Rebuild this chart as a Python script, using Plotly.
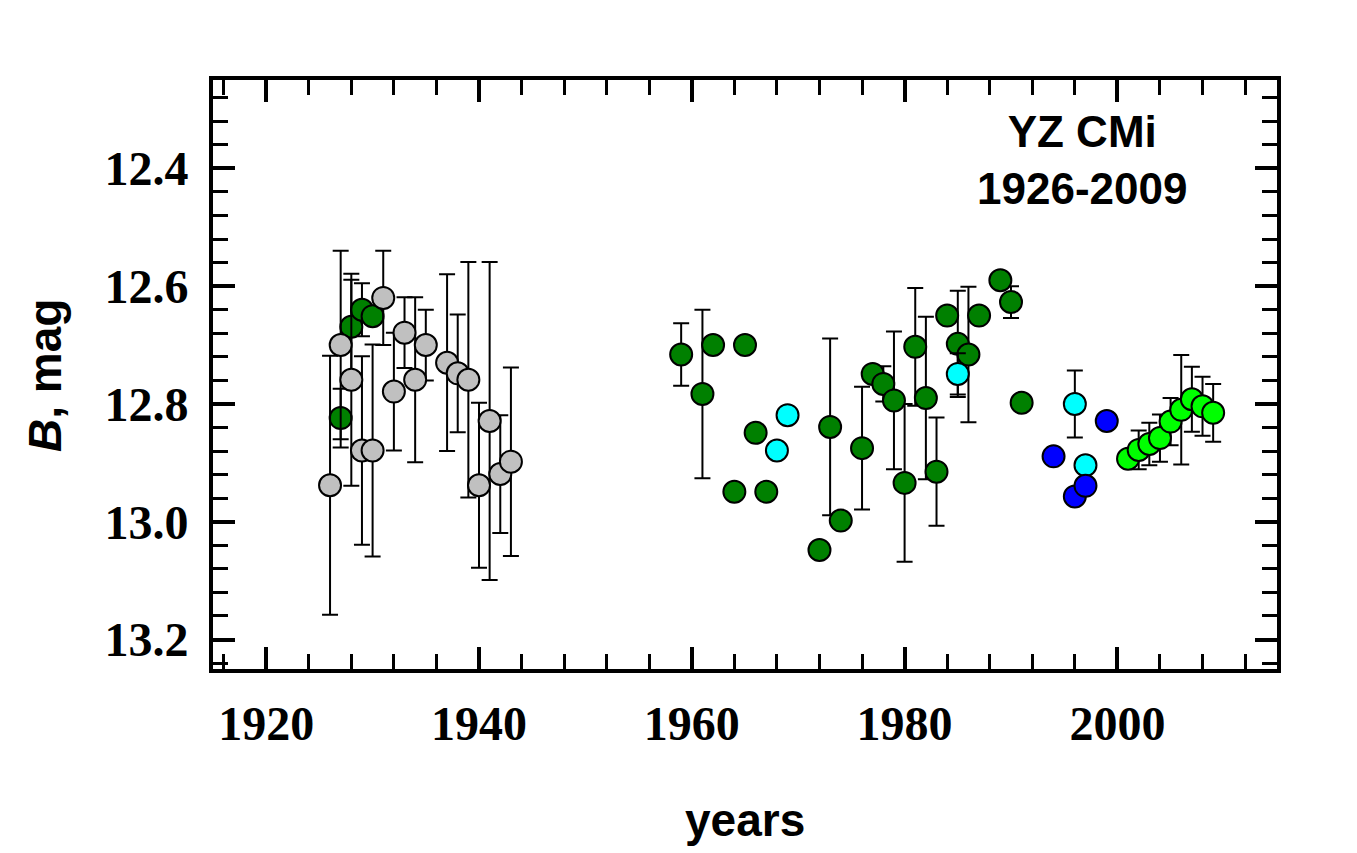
import plotly.graph_objects as go

# old photographic plates (grey) and modern data (colours)
gray_years = [1926, 1927, 1928, 1929, 1930, 1931, 1932, 1933, 1934, 1935,
              1937, 1938, 1939, 1940, 1941, 1942, 1943]
gray_mag = [12.938, 12.700, 12.759, 12.879, 12.879, 12.620, 12.779, 12.679, 12.759, 12.700,
            12.730, 12.748, 12.759, 12.938, 12.829, 12.919, 12.898]
gray_err = [0.22, 0.16, 0.18, 0.16, 0.18, 0.08, 0.10, 0.06, 0.14, 0.06,
            0.15, 0.10, 0.20, 0.14, 0.27, 0.10, 0.16]

green_years = [1927, 1928, 1929, 1930, 1959, 1961, 1962, 1964, 1965, 1966, 1967,
               1972, 1973, 1974, 1976, 1977, 1978, 1979, 1980, 1981, 1982, 1983,
               1984, 1985, 1986, 1987, 1989, 1990, 1991]
green_mag = [12.824, 12.669, 12.640, 12.651, 12.716, 12.783, 12.700, 12.949, 12.700, 12.849, 12.949,
             13.048, 12.839, 12.998, 12.875, 12.749, 12.766, 12.794, 12.934, 12.703, 12.790, 12.915,
             12.650, 12.698, 12.716, 12.650, 12.590, 12.627, 12.798]
green_err = [0.05, 0.08, 0.045, 0, 0.053, 0.143, 0, 0, 0, 0, 0,
             0, 0.15, 0, 0.104, 0, 0.03, 0.117, 0.134, 0.10, 0.138, 0.092,
             0, 0.09, 0.115, 0, 0, 0.027, 0]

cyan_years = [1968, 1969, 1985, 1996, 1997]
cyan_mag = [12.879, 12.819, 12.749, 12.800, 12.904]
cyan_err = [0, 0, 0.035, 0.057, 0]

blue_years = [1994, 1996, 1997, 1999]
blue_mag = [12.889, 12.957, 12.939, 12.829]
blue_err = [0, 0, 0, 0]

lime_years = [2001, 2002, 2003, 2004, 2005, 2006, 2007, 2008, 2009]
lime_mag = [12.893, 12.878, 12.868, 12.858, 12.830, 12.810, 12.792, 12.804, 12.815]
lime_err = [0, 0.033, 0.036, 0.04, 0.04, 0.093, 0.055, 0.05, 0.049]

series = [
    (green_years, green_mag, green_err, "#008000"),
    (gray_years, gray_mag, gray_err, "#c0c0c0"),
    (cyan_years, cyan_mag, cyan_err, "#00ffff"),
    (blue_years, blue_mag, blue_err, "#0000ff"),
    (lime_years, lime_mag, lime_err, "#00ff00"),
]

fig = go.Figure()
for yrs, mag, err, col in series:
    fig.add_trace(go.Scatter(
        x=yrs, y=mag, mode="markers",
        marker=dict(size=22, color=col, line=dict(color="black", width=2)),
        error_y=dict(type="data", array=err, visible=True,
                     color="black", thickness=2, width=8),
        showlegend=False,
    ))

tickfont = dict(family="Liberation Serif", size=48, color="black", weight="bold")
axis_common = dict(
    showgrid=False, zeroline=False, showline=True, linecolor="black", linewidth=4,
    mirror="allticks", ticks="inside", ticklen=22, tickwidth=4, tickcolor="black",
    tickfont=tickfont,
)

fig.update_xaxes(range=[1915, 2015], tick0=1920, dtick=20, ticklabelstandoff=9,
                 minor=dict(dtick=4, tick0=1920, ticks="inside", ticklen=15,
                            tickwidth=3, tickcolor="black"),
                 **axis_common)
fig.update_yaxes(range=[13.25, 12.25], tick0=12.4, dtick=0.2, tickformat=".1f",
                 ticklabelstandoff=11,
                 minor=dict(dtick=0.04, tick0=12.4, ticks="inside", ticklen=15,
                            tickwidth=3, tickcolor="black"),
                 **axis_common)

labfont = dict(family="Liberation Sans", size=46, color="black", weight="bold")
fig.add_annotation(text="years", xref="paper", yref="paper", x=0.5, y=-0.256,
                   xanchor="center", yanchor="middle", showarrow=False, font=labfont)
fig.add_annotation(text="<i>B</i>, mag", xref="paper", yref="paper", x=-0.158, y=0.499,
                   xanchor="center", yanchor="middle", textangle=-90, showarrow=False,
                   font=labfont)
fig.add_annotation(text="YZ CMi<br>1926-2009", xref="paper", yref="paper", x=0.817, y=0.864,
                   xanchor="center", yanchor="middle", showarrow=False,
                   font=dict(family="Liberation Sans", size=44, color="black", weight="bold"))

# the page body adds an 8px offset, so the margins are shifted to compensate
fig.update_layout(
    width=1357, height=853, autosize=False,
    margin=dict(l=205, r=88, t=72, b=192),
    plot_bgcolor="white", paper_bgcolor="white",
)

fig.write_html("out.html")
